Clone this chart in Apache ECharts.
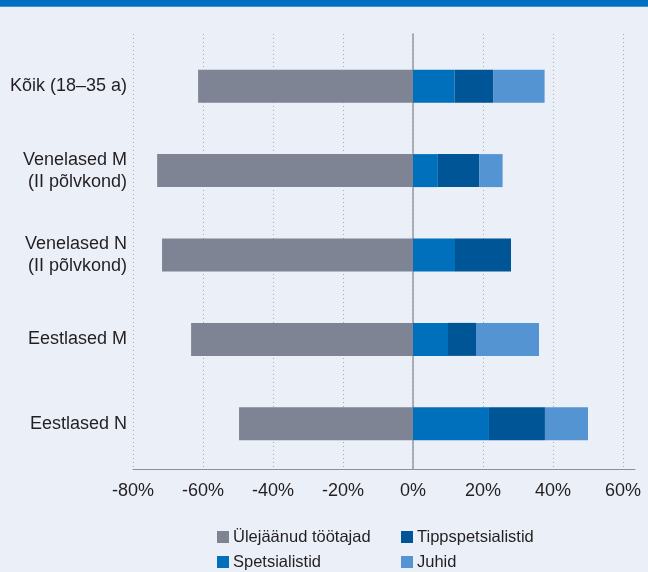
<!DOCTYPE html>
<html>
<head>
<meta charset="utf-8">
<script src="https://cdn.jsdelivr.net/npm/echarts@6/dist/echarts.min.js"></script>
<style>
  html, body { margin: 0; padding: 0; background: #ebeff8; }
  #chart { width: 648px; height: 572px; }
</style>
</head>
<body>
<div id="chart"></div>
<script>
// categories top to bottom
const categories = ['Kõik (18–35 a)', 'Venelased M\n(II põlvkond)', 'Venelased N\n(II põlvkond)', 'Eestlased M', 'Eestlased N']
// shares in %
const ulejaanud = [-61.4, -73.1, -71.7, -63.4, -49.7]
const spetsialistid = [11.9, 7.1, 12.0, 10.0, 21.7]
const tippspetsialistid = [11.1, 11.8, 16.0, 8.0, 16.0]
const juhid = [14.6, 6.7, 0, 18.0, 12.3]
const xTicks = [-80, -60, -40, -20, 0, 20, 40, 60]

const font = 'Liberation Sans, Arial, sans-serif'
const textColor = '#231f20'

function barSeries(name, data, color) {
  return {
    name: name,
    type: 'bar',
    stack: 'total',
    xAxisIndex: 1,
    yAxisIndex: 1,
    barWidth: 33,
    itemStyle: { color: color },
    data: data
  }
}

// one legend per item so the two columns line up
function legendItem(name, left, top) {
  return {
    left: left,
    top: top,
    padding: 0,
    itemWidth: 12,
    itemHeight: 12,
    icon: 'rect',
    textStyle: { fontSize: 16.5, color: textColor, fontFamily: font, lineHeight: 18, padding: [0, 0, 0, -1] },
    data: [name]
  }
}

const chart = echarts.init(document.getElementById('chart'))
const option = {
  backgroundColor: '#ebeff8',
  animation: false,
  textStyle: { fontFamily: font },
  graphic: [
    { type: 'rect', left: 0, top: 0, shape: { width: 648, height: 6 }, style: { fill: '#0070c0' } },
    { type: 'rect', left: 0, top: 6, shape: { width: 648, height: 1 }, style: { fill: '#3e8fd3' } }
  ],
  legend: [
    legendItem('Ülejäänud töötajad', 217, 528),
    legendItem('Spetsialistid', 217, 553),
    legendItem('Tippspetsialistid', 401, 528),
    legendItem('Juhid', 401, 553)
  ],
  grid: [
    // frame: dotted lines, tick labels, zero line
    { left: 133, right: 25, top: 34, bottom: 103 },
    // bars
    { left: 133, right: 25, top: 44, bottom: 106 },
    // bottom axis line
    { left: 133, right: 13, top: 34, bottom: 103 }
  ],
  xAxis: [
    {
      type: 'value',
      gridIndex: 0,
      min: xTicks[0],
      max: xTicks[xTicks.length - 1],
      interval: 20,
      axisLine: { show: false },
      axisTick: { show: false },
      axisLabel: {
        margin: 13,
        fontSize: 18,
        color: textColor,
        fontFamily: font,
        formatter: v => v + '%'
      },
      splitLine: { show: true, lineStyle: { color: '#a4a8b4', type: [1, 3], width: 1 } }
    },
    {
      type: 'value',
      gridIndex: 1,
      min: xTicks[0],
      max: xTicks[xTicks.length - 1],
      show: false
    },
    {
      type: 'value',
      gridIndex: 2,
      min: 0,
      max: 1,
      axisLine: { show: true, onZero: false, lineStyle: { color: '#8c8f98', width: 1 } },
      axisTick: { show: false },
      axisLabel: { show: false },
      splitLine: { show: false }
    }
  ],
  yAxis: [
    {
      type: 'value',
      gridIndex: 0,
      min: 0,
      max: 1,
      axisLine: { show: true, onZero: true, lineStyle: { color: '#979aa3', width: 1.5 } },
      axisTick: { show: false },
      axisLabel: { show: false },
      splitLine: { show: false }
    },
    {
      type: 'category',
      gridIndex: 1,
      inverse: true,
      data: categories,
      axisLine: { show: false },
      axisTick: { show: false },
      axisLabel: {
        margin: 6,
        fontSize: 18,
        lineHeight: 22,
        color: textColor,
        fontFamily: font,
        align: 'right'
      }
    },
    {
      type: 'value',
      gridIndex: 2,
      show: false
    }
  ],
  series: [
    barSeries('Ülejäänud töötajad', ulejaanud, '#7f8494'),
    barSeries('Spetsialistid', spetsialistid, '#0070bd'),
    barSeries('Tippspetsialistid', tippspetsialistid, '#005596'),
    barSeries('Juhid', juhid, '#5594d2')
  ]
}
chart.setOption(option)
window.addEventListener('resize', () => chart.resize())
</script>
</body>
</html>
